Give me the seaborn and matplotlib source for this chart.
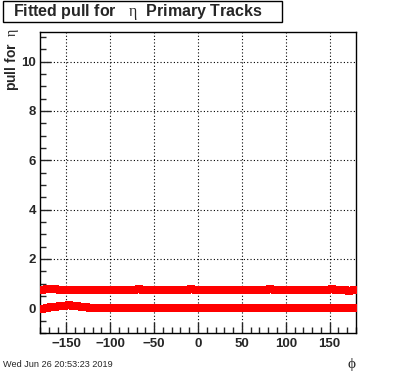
import numpy as np
import pandas as pd
import matplotlib
matplotlib.use("Agg")
import matplotlib.pyplot as plt
import seaborn as sns
from matplotlib.ticker import MultipleLocator
from matplotlib.patches import Rectangle

# phi bin centres (5 degree bins)
phi = np.arange(-177.5, 180, 5.0)

# fitted sigma (upper band) and mean (lower band), red = fit, black = data
sigma_red = [0.76, 0.77, 0.79, 0.77, 0.75, 0.74, 0.75, 0.74, 0.73, 0.75,
             0.74, 0.73, 0.74, 0.73, 0.75, 0.74, 0.73, 0.74, 0.76, 0.74,
             0.73, 0.74, 0.77, 0.75, 0.74, 0.75, 0.73, 0.74, 0.74, 0.76,
             0.73, 0.74, 0.73, 0.74, 0.77, 0.75, 0.74, 0.73, 0.75, 0.74,
             0.74, 0.73, 0.73, 0.75, 0.74, 0.76, 0.74, 0.73, 0.74, 0.75,
             0.73, 0.74, 0.77, 0.75, 0.74, 0.73, 0.74, 0.76, 0.74, 0.73,
             0.74, 0.73, 0.75, 0.74, 0.73, 0.74, 0.77, 0.75, 0.74, 0.73,
             0.72, 0.73]
sigma_blk = [0.73, 0.74, 0.76, 0.74, 0.72, 0.71, 0.72, 0.71, 0.70, 0.72,
             0.71, 0.70, 0.71, 0.70, 0.72, 0.71, 0.70, 0.71, 0.73, 0.71,
             0.70, 0.71, 0.74, 0.72, 0.71, 0.72, 0.70, 0.71, 0.71, 0.73,
             0.70, 0.71, 0.70, 0.71, 0.74, 0.72, 0.71, 0.70, 0.72, 0.71,
             0.71, 0.70, 0.70, 0.72, 0.71, 0.73, 0.71, 0.70, 0.71, 0.72,
             0.70, 0.71, 0.74, 0.72, 0.71, 0.70, 0.71, 0.73, 0.71, 0.70,
             0.71, 0.70, 0.72, 0.71, 0.70, 0.71, 0.74, 0.72, 0.71, 0.70,
             0.69, 0.70]
mean_red = [-0.01, 0.02, 0.05, 0.07, 0.09, 0.11, 0.12, 0.11, 0.09, 0.07,
            0.05, 0.03, 0.02, 0.01, 0.01, 0.0, 0.01, 0.01, 0.0, 0.01,
            0.02, 0.01, 0.01, 0.0, 0.01, 0.02, 0.01, 0.0, 0.01, 0.02,
            0.01, 0.01, 0.0, 0.01, 0.02, 0.01, 0.0, 0.0, 0.01, 0.01,
            0.02, 0.01, 0.0, 0.01, 0.01, 0.0, 0.01, 0.02, 0.01, 0.01,
            0.0, 0.01, 0.02, 0.02, 0.01, 0.01, 0.0, 0.01, 0.02, 0.01,
            0.0, 0.01, 0.01, 0.02, 0.01, 0.0, 0.01, 0.01, 0.0, 0.01,
            0.0, 0.0]
mean_blk = [-0.04, -0.02, 0.0, 0.03, 0.06, 0.09, 0.12, 0.14, 0.13, 0.10,
            0.06, 0.03, 0.01, 0.0, -0.01, -0.01, 0.0, -0.01, -0.01, 0.0,
            0.01, 0.0, 0.0, -0.01, 0.0, 0.01, 0.0, -0.02, -0.01, 0.01,
            0.0, 0.0, -0.01, 0.0, 0.01, 0.0, -0.02, -0.01, 0.0, 0.0,
            0.01, 0.0, -0.01, 0.0, 0.0, -0.01, 0.0, 0.01, 0.0, 0.0,
            -0.01, 0.0, 0.01, 0.01, 0.0, 0.0, -0.01, 0.0, 0.01, 0.0,
            -0.01, 0.0, 0.0, 0.01, 0.0, -0.01, 0.0, 0.0, -0.01, 0.0,
            -0.01, -0.01]

df = pd.DataFrame({"phi": phi, "sigma_red": sigma_red, "sigma_blk": sigma_blk,
                   "mean_red": mean_red, "mean_blk": mean_blk})

sns.set_style("ticks")
plt.rcParams['font.family'] = ['Liberation Sans', 'DejaVu Sans']
plt.rcParams['mathtext.fontset'] = 'custom'
plt.rcParams['mathtext.rm'] = 'Liberation Serif'

fig = plt.figure(figsize=(3.96, 3.72), dpi=100)
ax = fig.add_axes([0.101, 0.105, 0.798, 0.809])

ax.grid(True, which='major', color='black', linestyle=(0, (1, 2)), linewidth=0.8)

sns.scatterplot(data=df, x="phi", y="sigma_blk", ax=ax, color='black', marker='s',
                s=22, linewidth=0, zorder=3)
sns.scatterplot(data=df, x="phi", y="mean_blk", ax=ax, color='black', marker='s',
                s=22, linewidth=0, zorder=3)
sns.scatterplot(data=df, x="phi", y="sigma_red", ax=ax, color='#ff0000', marker='s',
                s=30, linewidth=0, zorder=4)
sns.scatterplot(data=df, x="phi", y="mean_red", ax=ax, color='#ff0000', marker='s',
                s=30, linewidth=0, zorder=4)

ax.set_xlim(-180, 180)
ax.set_ylim(-1.0, 11.2)
ax.xaxis.set_major_locator(MultipleLocator(50))
ax.xaxis.set_minor_locator(MultipleLocator(10))
ax.yaxis.set_major_locator(MultipleLocator(2))
ax.yaxis.set_minor_locator(MultipleLocator(0.5))
ax.tick_params(which='both', direction='in', top=False, right=False, labelsize=9.5)
ax.tick_params(which='major', length=8, width=1)
ax.tick_params(which='minor', length=4, width=1)
ax.tick_params(axis='y', pad=3)
for lab in ax.get_xticklabels() + ax.get_yticklabels():
    lab.set_fontweight('bold')
for sp in ax.spines.values():
    sp.set_visible(True)
    sp.set_linewidth(1)
    sp.set_color('black')

ax.set_xlabel("")
ax.set_ylabel("")
fig.text(0.031, 0.925, "pull for  $\\mathrm{\\eta}$", rotation=90, ha='center', va='top',
         fontsize=10, fontweight='bold')
fig.text(0.889, 0.019, "$\\mathrm{\\phi}$", ha='center', va='center', fontsize=11)
fig.text(0.008, 0.019, "Wed Jun 26 20:53:23 2019", ha='left', va='center', fontsize=6.6)

# title box
fig.patches.append(Rectangle((0.0076, 0.941), 0.704, 0.056, transform=fig.transFigure,
                             facecolor='white', edgecolor='black', linewidth=1))
fig.text(0.033, 0.969, "Fitted pull for   $\\mathrm{\\eta}$  Primary Tracks", ha='left',
         va='center', fontsize=11.5, fontweight='bold')

fig.savefig("out.png", dpi=100)
